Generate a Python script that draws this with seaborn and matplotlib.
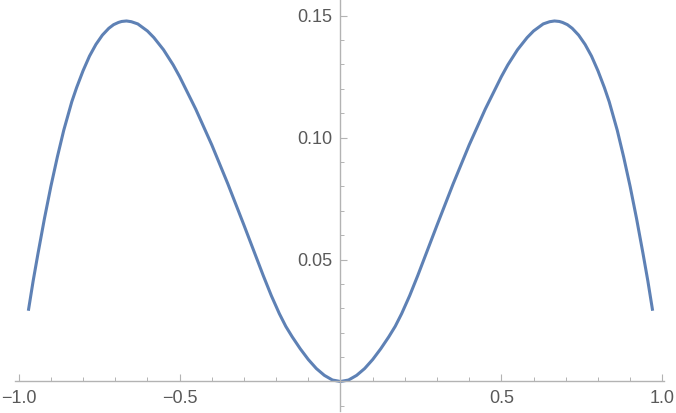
import matplotlib
matplotlib.use("Agg")
import matplotlib.pyplot as plt
import seaborn as sns
from matplotlib.ticker import MultipleLocator

# values
x_vals = [-0.97, -0.955, -0.94, -0.92, -0.90, -0.88, -0.86, -0.835, -0.82, -0.80,
          -0.78, -0.76, -0.74, -0.72, -0.705, -0.69, -0.68, -0.665, -0.65, -0.63,
          -0.60, -0.58, -0.55, -0.52, -0.50, -0.45, -0.40, -0.35, -0.30, -0.28,
          -0.24, -0.215, -0.19, -0.17, -0.15, -0.125, -0.10, -0.075, -0.05, -0.025,
          0.00, 0.025, 0.05, 0.075, 0.10, 0.125, 0.15, 0.17, 0.19, 0.215,
          0.24, 0.28, 0.30, 0.35, 0.40, 0.45, 0.50, 0.52, 0.55, 0.58,
          0.60, 0.63, 0.65, 0.665, 0.68, 0.69, 0.705, 0.72, 0.74, 0.76,
          0.78, 0.80, 0.82, 0.835, 0.86, 0.88, 0.90, 0.92, 0.94, 0.955, 0.97]
y_vals = [0.0290, 0.0413, 0.0525, 0.0668, 0.0800, 0.0920, 0.1030, 0.1147, 0.1205, 0.1274,
          0.1334, 0.1382, 0.1420, 0.1448, 0.1463, 0.1472, 0.1476, 0.1478, 0.1475, 0.1466,
          0.1437, 0.1410, 0.1360, 0.1298, 0.1250, 0.1117, 0.0970, 0.0810, 0.0641, 0.0572,
          0.0434, 0.0352, 0.0278, 0.0226, 0.0183, 0.0134, 0.0090, 0.0053, 0.0025, 0.0006,
          0.0000, 0.0006, 0.0025, 0.0053, 0.0090, 0.0134, 0.0183, 0.0226, 0.0278, 0.0352,
          0.0434, 0.0572, 0.0641, 0.0810, 0.0970, 0.1117, 0.1250, 0.1298, 0.1360, 0.1410,
          0.1437, 0.1466, 0.1475, 0.1478, 0.1476, 0.1472, 0.1463, 0.1448, 0.1420, 0.1382,
          0.1334, 0.1274, 0.1205, 0.1147, 0.1030, 0.0920, 0.0800, 0.0668, 0.0525, 0.0413, 0.0290]

x_ticks = [-1.0, -0.5, 0.5, 1.0]
x_labels = ["\u22121.0", "\u22120.5", "0.5", "1.0"]
y_ticks = [0.05, 0.10, 0.15]
y_labels = ["0.05", "0.10", "0.15"]

sns.set_style("white")
plt.rcParams["font.family"] = ["Liberation Sans", "DejaVu Sans"]

fig = plt.figure(figsize=(6.76, 4.13), dpi=100)
ax = fig.add_axes([15 / 676, 2 / 413, 649 / 676, 411 / 413])

sns.lineplot(x=x_vals, y=y_vals, ax=ax, color="#5e81b5", linewidth=2.2,
             solid_capstyle="butt", solid_joinstyle="round")

ax.set_xlim(-1.0115, 1.0053)
ax.set_ylim(-0.0121, 0.1564)

axis_col = "#b3b3b3"
for side in ["top", "right"]:
    ax.spines[side].set_visible(False)
ax.spines["bottom"].set_position(("data", 0))
ax.spines["left"].set_position(("data", 0))
for side in ["bottom", "left"]:
    ax.spines[side].set_color(axis_col)
    ax.spines[side].set_linewidth(1.0)

ax.set_xticks(x_ticks)
ax.set_xticklabels(x_labels)
ax.set_yticks(y_ticks)
ax.set_yticklabels(y_labels)
ax.xaxis.set_minor_locator(MultipleLocator(0.1))
ax.yaxis.set_minor_locator(MultipleLocator(0.01))

ax.tick_params(which="both", bottom=True, left=True, top=False, right=False)
ax.tick_params(which="major", direction="in", length=5, width=0.8,
               color=axis_col, labelcolor="#595959", labelsize=13, pad=6)
ax.tick_params(which="minor", direction="in", length=3, width=0.7, color=axis_col)

ax.set_xlabel("")
ax.set_ylabel("")
ax.grid(False)

fig.savefig("out.png", dpi=100)
